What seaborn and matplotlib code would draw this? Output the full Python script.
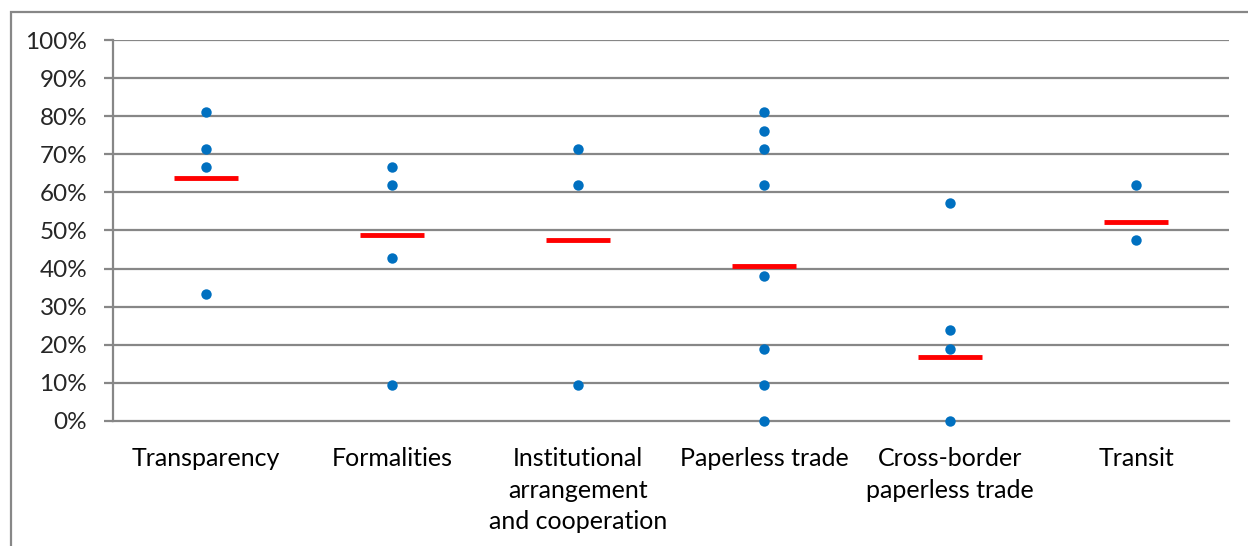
import numpy as np
import pandas as pd
import seaborn as sns
import matplotlib.pyplot as plt
from matplotlib.ticker import PercentFormatter, FixedLocator

categories = ["Transparency", "Formalities", "Institutional\narrangement\nand cooperation",
              "Paperless trade", "Cross-border\npaperless trade", "Transit"]

transparency = [0.810, 0.714, 0.667, 0.333]
formalities = [0.667, 0.619, 0.429, 0.095]
institutional = [0.714, 0.619, 0.095]
paperless = [0.810, 0.762, 0.714, 0.619, 0.381, 0.190, 0.095, 0.0]
cross_border = [0.571, 0.238, 0.190, 0.0]
transit = [0.619, 0.476]

averages = [0.638, 0.489, 0.475, 0.407, 0.167, 0.523]

groups = [transparency, formalities, institutional, paperless, cross_border, transit]
points = pd.DataFrame({
    "category": [c for c, g in zip(categories, groups) for _ in g],
    "score": [v for g in groups for v in g],
})
means = pd.DataFrame({"category": categories, "score": averages})

sns.set_style("white")
plt.rcParams["font.family"] = ["Lato", "DejaVu Sans"]

fig = plt.figure(figsize=(12.48, 5.46), dpi=100)
ax = fig.add_axes([0.0905, 0.229, 0.8945, 0.6977])

grid_col = "#878787"
for v in np.arange(0.1, 1.01, 0.1):
    ax.axhline(v, color=grid_col, lw=1.6, zorder=0)

sns.stripplot(data=means, x="category", y="score", order=categories, jitter=False,
              marker="_", size=46, linewidth=3.5, color="#ff0000", ax=ax, zorder=3)
sns.stripplot(data=points, x="category", y="score", order=categories, jitter=False,
              size=7.5, color="#0070c0", linewidth=0, ax=ax, zorder=4, clip_on=False)

ax.set_xlim(-0.5, 5.5)
ax.set_ylim(0, 1)
ax.set_xlabel("")
ax.set_ylabel("")
ax.yaxis.set_major_locator(FixedLocator(np.arange(0, 1.01, 0.1)))
ax.yaxis.set_major_formatter(PercentFormatter(1.0, decimals=0))
ax.set_xticks(range(len(categories)))
ax.set_xticklabels(categories, linespacing=1.45)
ax.set_xticks(np.arange(-0.5, 5.6, 1), minor=True)
ax.tick_params(axis="x", which="major", length=0, pad=19, labelsize=18, colors="black")
ax.tick_params(axis="x", which="minor", length=6.5, width=1.6, color=grid_col, direction="out")
ax.tick_params(axis="y", length=6.5, width=1.6, color=grid_col, direction="out",
               pad=12, labelsize=17.5, left=True)

for side in ["top", "right"]:
    ax.spines[side].set_visible(False)
for side in ["left", "bottom"]:
    ax.spines[side].set_color(grid_col)
    ax.spines[side].set_linewidth(1.6)

fig.add_artist(plt.Rectangle((11 / 1248, -0.2), 1.2, 1.2 - 12 / 546,
                             transform=fig.transFigure, fill=False,
                             edgecolor=grid_col, lw=1.6))

fig.savefig("out.png", dpi=100)
